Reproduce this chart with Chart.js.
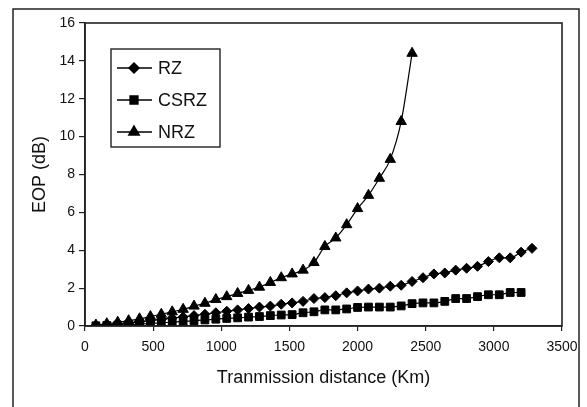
<!DOCTYPE html>
<html>
<head>
<meta charset="utf-8">
<script src="https://cdn.jsdelivr.net/npm/chart.js@4.4.1/dist/chart.umd.min.js"></script>
<style>
  html, body { margin: 0; padding: 0; background: #fff; }
  canvas { display: block; }
</style>
</head>
<body>
<canvas id="eop-chart" width="587" height="407"></canvas>
<script>
// transmission distance (km) at each measured point
var distanceKm = [80,160,240,320,400,480,560,640,720,800,880,960,1040,1120,1200,1280,1360,1440,1520,1600,
  1680,1760,1840,1920,2000,2080,2160,2240,2320,2400,2480,2560,2640,2720,2800,2880,2960,3040,3120,3200,3280];

// EOP (dB)
var rzEop = [0.03,0.07,0.12,0.17,0.22,0.28,0.35,0.42,0.48,0.55,0.62,0.7,0.78,0.85,0.92,1.0,1.05,1.15,1.22,1.3,
  1.45,1.5,1.6,1.75,1.85,1.95,2.0,2.1,2.15,2.35,2.55,2.75,2.8,2.95,3.05,3.15,3.4,3.6,3.6,3.9,4.1];
var csrzEop = [0.01,0.03,0.05,0.07,0.1,0.13,0.17,0.2,0.24,0.28,0.32,0.36,0.4,0.43,0.47,0.5,0.55,0.58,0.6,0.7,
  0.75,0.85,0.85,0.9,0.98,1.0,1.0,1.0,1.06,1.18,1.22,1.22,1.3,1.45,1.45,1.55,1.65,1.65,1.77,1.77];
var nrzEop = [0.05,0.12,0.2,0.28,0.38,0.5,0.62,0.75,0.88,1.05,1.2,1.4,1.55,1.72,1.88,2.05,2.3,2.55,2.75,2.95,
  3.35,4.2,4.65,5.35,6.2,6.9,7.8,8.8,10.8,14.4];

var seriesNames = ["RZ", "CSRZ", "NRZ"];
var markers = ["rectRot", "rect", "triangle"];
var markerSize = [5, 5.5, 6];

function pairs(ys) {
  return ys.map(function (y, i) { return { x: distanceKm[i], y: y }; });
}

var FONT = "'Liberation Sans', Arial, sans-serif";

// frame around the whole figure + box round the plot + legend box
var framePlugin = {
  id: 'frame',
  afterDraw: function (chart) {
    var ctx = chart.ctx, a = chart.chartArea;
    ctx.save();
    ctx.strokeStyle = '#222';
    ctx.lineWidth = 1.5;
    ctx.strokeRect(13, 9, 566, 420);
    ctx.lineWidth = 1.6;
    ctx.strokeRect(a.left, a.top, a.right - a.left, a.bottom - a.top);

    // legend
    ctx.lineWidth = 1.4;
    ctx.strokeRect(111, 49, 109, 98);
    var rows = [68, 100, 132];
    chart.data.datasets.forEach(function (ds, i) {
      var y = rows[i];
      ctx.strokeStyle = '#000';
      ctx.lineWidth = 1.5;
      ctx.beginPath();
      ctx.moveTo(117, y);
      ctx.lineTo(152, y);
      ctx.stroke();
      ctx.fillStyle = '#000';
      Chart.helpers.drawPoint(ctx, { pointStyle: ds.pointStyle, radius: ds.pointRadius, rotation: 0, borderWidth: 1 }, 134, y);
      ctx.fill();
      ctx.fillStyle = '#111';
      ctx.font = '18px ' + FONT;
      ctx.textBaseline = 'middle';
      ctx.textAlign = 'left';
      ctx.fillText(ds.label, 158, y + 1);
    });
    ctx.restore();
  }
};

var datasets = [rzEop, csrzEop, nrzEop].map(function (vals, i) {
  return {
    label: seriesNames[i],
    data: pairs(vals),
    borderColor: '#000',
    backgroundColor: '#000',
    borderWidth: 1.2,
    pointStyle: markers[i],
    pointRadius: markerSize[i],
    pointBorderWidth: 1,
    fill: false,
    cubicInterpolationMode: 'monotone'
  };
});

new Chart(document.getElementById("eop-chart"), {
  type: 'line',
  data: { datasets: datasets },
  plugins: [framePlugin],
  options: {
    responsive: false,
    animation: false,
    layout: { padding: { left: 0, top: 23, right: 25, bottom: 0 } },
    plugins: {
      legend: { display: false },
      tooltip: { enabled: false }
    },
    scales: {
      x: {
        type: 'linear',
        min: 0,
        max: 3500,
        ticks: {
          stepSize: 500, color: '#111', font: { family: FONT, size: 14 }, padding: 8, maxRotation: 0,
          callback: function (v) { return String(v); }
        },
        grid: { drawOnChartArea: false, drawTicks: true, tickLength: 5, color: '#222', lineWidth: 1.2 },
        border: { display: true, color: '#222', width: 1.6 },
        title: { display: true, text: 'Tranmission distance (Km)', color: '#111', font: { family: FONT, size: 18 }, padding: { top: 0, bottom: 18 } },
        afterFit: function (s) { s.height = 81; }
      },
      y: {
        min: 0,
        max: 16,
        ticks: { stepSize: 2, color: '#111', font: { family: FONT, size: 14 }, padding: 4 },
        grid: { drawOnChartArea: false, drawTicks: true, tickLength: 6, color: '#222', lineWidth: 1.2 },
        border: { display: true, color: '#222', width: 1.6 },
        title: { display: true, text: 'EOP (dB)', color: '#111', font: { family: FONT, size: 18 }, padding: { top: 29, bottom: 0 } },
        afterFit: function (s) { s.width = 85; }
      }
    }
  }
});
</script>
</body>
</html>
